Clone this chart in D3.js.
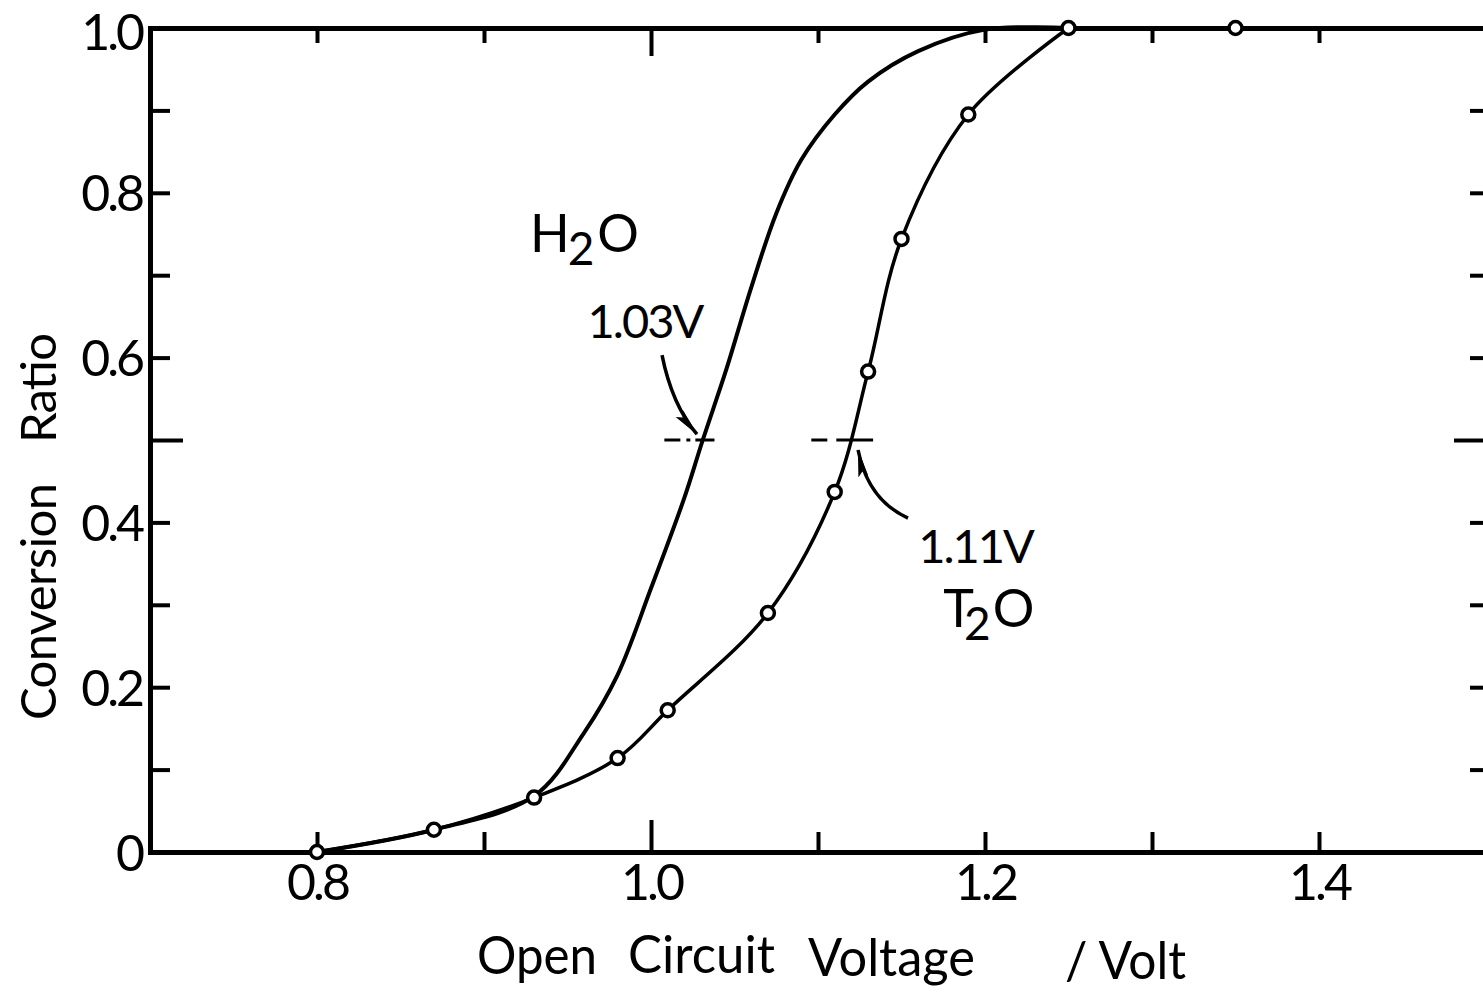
<!DOCTYPE html>
<html>
<head>
<meta charset="utf-8">
<script src="https://cdn.jsdelivr.net/npm/d3@7"></script>
<style>
  body { margin: 0; background: #fff; }
  svg { display: block; }
  text { fill: #000; }
  .num { font-family: "Lato", "DejaVu Sans", sans-serif; letter-spacing: -3px; }
  .lbl { font-family: "Lato", "DejaVu Sans", sans-serif; letter-spacing: -2px; }
  .ttl { font-family: "Lato", "DejaVu Sans", sans-serif; }
</style>
</head>
<body>
<svg id="chart" width="1483" height="993"></svg>
<script>
// T2O : measured points (open circles)
var t2oVolt  = [0.80, 0.87, 0.93, 0.98, 1.01, 1.07, 1.11, 1.13, 1.15, 1.19, 1.25, 1.35];
var t2oRatio = [0.00, 0.027, 0.066, 0.114, 0.172, 0.29, 0.437, 0.583, 0.744, 0.895, 1.0, 1.0];

// H2O : smooth curve, no markers
var h2oVolt  = [0.80, 0.87, 0.93, 0.96, 0.98, 1.00, 1.02, 1.031, 1.045, 1.06, 1.075, 1.09,
                1.11, 1.13, 1.16, 1.20, 1.25];
var h2oRatio = [0.00, 0.027, 0.068, 0.145, 0.215, 0.320, 0.430, 0.500, 0.585, 0.685, 0.775, 0.840,
                0.895, 0.935, 0.972, 0.998, 1.0];

// half conversion voltages
var halfVolt  = [1.03, 1.11];
var halfLabel = ["1.03V", "1.11V"];

// ticks
var xTicks  = [0.7, 0.8, 0.9, 1.0, 1.1, 1.2, 1.3, 1.4, 1.5];
var xLabels = ["", "0.8", "", "1.0", "", "1.2", "", "1.4", ""];
var yTicks  = [0, 0.1, 0.2, 0.3, 0.4, 0.5, 0.6, 0.7, 0.8, 0.9, 1.0];
var yLabels = ["0", "", "0.2", "", "0.4", "", "0.6", "", "0.8", "", "1.0"];

var svg = d3.select("#chart");

var x = d3.scaleLinear().domain([0.7, 1.5]).range([150, 1486]);
var y = d3.scaleLinear().domain([0, 1]).range([852, 28]);

var fmtX = function (d) { return xLabels[xTicks.indexOf(d)]; };
var fmtY = function (d) { return yLabels[yTicks.indexOf(d)]; };

// axes (ticks point inward)
var gBottom = svg.append("g").attr("transform", "translate(0," + y(0) + ")")
  .call(d3.axisBottom(x).tickValues(xTicks).tickFormat(fmtX).tickSizeInner(-20).tickSizeOuter(0).tickPadding(12));
var gTop = svg.append("g").attr("transform", "translate(0," + y(1) + ")")
  .call(d3.axisTop(x).tickValues(xTicks).tickFormat("").tickSizeInner(-15).tickSizeOuter(0));
var gLeft = svg.append("g").attr("transform", "translate(" + x(0.7) + ",0)")
  .call(d3.axisLeft(y).tickValues(yTicks).tickFormat(fmtY).tickSizeInner(-20).tickSizeOuter(0).tickPadding(8));
var gRight = svg.append("g").attr("transform", "translate(" + x(1.5) + ",0)")
  .call(d3.axisRight(y).tickValues(yTicks).tickFormat("").tickSizeInner(-16).tickSizeOuter(0));

[gBottom, gTop, gLeft, gRight].forEach(function (g) {
  g.select(".domain").attr("stroke", "#000").attr("stroke-width", 5).attr("stroke-linecap", "square");
  g.selectAll(".tick line").attr("stroke", "#000").attr("stroke-width", 4);
  g.selectAll(".tick text").attr("class", "num").attr("font-size", 50).attr("fill", "#000");
});
// longer middle ticks
gBottom.selectAll(".tick line").filter(function (d) { return d === 1.0; }).attr("y2", -32);
gTop.selectAll(".tick line").filter(function (d) { return d === 1.0; }).attr("y2", 28);
gLeft.selectAll(".tick line").filter(function (d) { return d === 0.5; }).attr("x2", 33);
gRight.selectAll(".tick line").filter(function (d) { return d === 0.5; }).attr("x2", -32);
gLeft.selectAll(".tick text").attr("dy", "0.36em");
gLeft.selectAll(".tick text").filter(function (d) { return d === 1.0; }).attr("dy", "0.42em");

// curves
var smooth = d3.line()
  .x(function (d) { return x(d[0]); })
  .y(function (d) { return y(d[1]); })
  .curve(d3.curveCatmullRom.alpha(0.5));
var straight = d3.line()
  .x(function (d) { return x(d[0]); })
  .y(function (d) { return y(d[1]); });

var h2o = h2oVolt.map(function (v, i) { return [v, h2oRatio[i]]; });
var t2o = t2oVolt.map(function (v, i) { return [v, t2oRatio[i]]; });

svg.append("path").datum(h2o).attr("d", smooth)
  .attr("fill", "none").attr("stroke", "#000").attr("stroke-width", 4);
// rising part smooth, saturated part flat
svg.append("path").datum(t2o.slice(0, t2o.length - 1)).attr("d", smooth)
  .attr("fill", "none").attr("stroke", "#000").attr("stroke-width", 3.5);
svg.append("path").datum(t2o.slice(t2o.length - 2)).attr("d", straight)
  .attr("fill", "none").attr("stroke", "#000").attr("stroke-width", 3.5);

svg.selectAll("circle.pt").data(t2o).enter().append("circle")
  .attr("class", "pt")
  .attr("cx", function (d) { return x(d[0]); })
  .attr("cy", function (d) { return y(d[1]); })
  .attr("r", 6.5)
  .attr("fill", "#fff").attr("stroke", "#000").attr("stroke-width", 3.5);

// dashed marks at half conversion
var halfSpan = [[-0.022, 0.008], [-0.014, 0.023]];
var halfDash = ["16 6 4 5 40", "16 9 60"];
halfVolt.forEach(function (v, i) {
  svg.append("line")
    .attr("x1", x(v + halfSpan[i][0])).attr("x2", x(v + halfSpan[i][1]))
    .attr("y1", y(0.5)).attr("y2", y(0.5))
    .attr("stroke", "#000").attr("stroke-width", 3).attr("stroke-dasharray", halfDash[i]);
});

// arrows
svg.append("defs").append("marker")
  .attr("id", "head")
  .attr("viewBox", "0 0 28 12")
  .attr("refX", 27).attr("refY", 6)
  .attr("markerWidth", 28).attr("markerHeight", 12)
  .attr("markerUnits", "userSpaceOnUse")
  .attr("orient", "auto")
  .append("path").attr("d", "M0,1 L28,6 L0,11 L5,6 Z").attr("fill", "#000");

var arrows = [
  [[1.0066, 0.603], [1.0126, 0.5425], [1.0275, 0.507]],
  [[1.1539, 0.4053], [1.1299, 0.4272], [1.1240, 0.4879]]
];
arrows.forEach(function (a) {
  svg.append("path")
    .attr("d", "M" + x(a[0][0]) + "," + y(a[0][1]) +
               "Q" + x(a[1][0]) + "," + y(a[1][1]) + " " + x(a[2][0]) + "," + y(a[2][1]))
    .attr("fill", "none").attr("stroke", "#000").attr("stroke-width", 3.5)
    .attr("marker-end", "url(#head)");
});

// voltage labels
var halfLabelPos = [[0.962, 0.624], [1.160, 0.351]];
halfLabel.forEach(function (t, i) {
  svg.append("text").attr("class", "lbl")
    .attr("x", x(halfLabelPos[i][0])).attr("y", y(halfLabelPos[i][1]))
    .attr("font-size", 47).text(t);
});

// species labels
function species(letter, px, py, dx2, dxO) {
  var t = svg.append("text").attr("class", "ttl").attr("font-size", 52)
    .attr("x", x(px)).attr("y", y(py));
  t.append("tspan").text(letter);
  t.append("tspan").attr("font-size", 46).attr("dx", dx2).attr("dy", 13).text("2");
  t.append("tspan").attr("dx", dxO).attr("dy", -13).text("O");
}
species("H", 0.9275, 0.728, -2, 3);
species("T", 1.175, 0.273, -10, 2);

// axis titles
var yt = svg.append("g").attr("transform", "translate(56,720) rotate(-90)");
yt.append("text").attr("class", "ttl").attr("font-size", 49).attr("x", 0).attr("textLength", 237).text("Conversion");
yt.append("text").attr("class", "ttl").attr("font-size", 49).attr("x", 277).attr("textLength", 110).text("Ratio");

var xtWords = ["Open", "Circuit", "Voltage", "/ Volt"];
var xtPos = [[477, 120, 974], [628, 147, 973], [808, 167, 976], [1065, 121, 979]];
xtWords.forEach(function (w, i) {
  svg.append("text").attr("class", "ttl").attr("font-size", 52)
    .attr("x", xtPos[i][0]).attr("y", xtPos[i][2])
    .attr("textLength", xtPos[i][1]).attr("lengthAdjust", "spacingAndGlyphs")
    .text(w);
});
</script>
</body>
</html>
